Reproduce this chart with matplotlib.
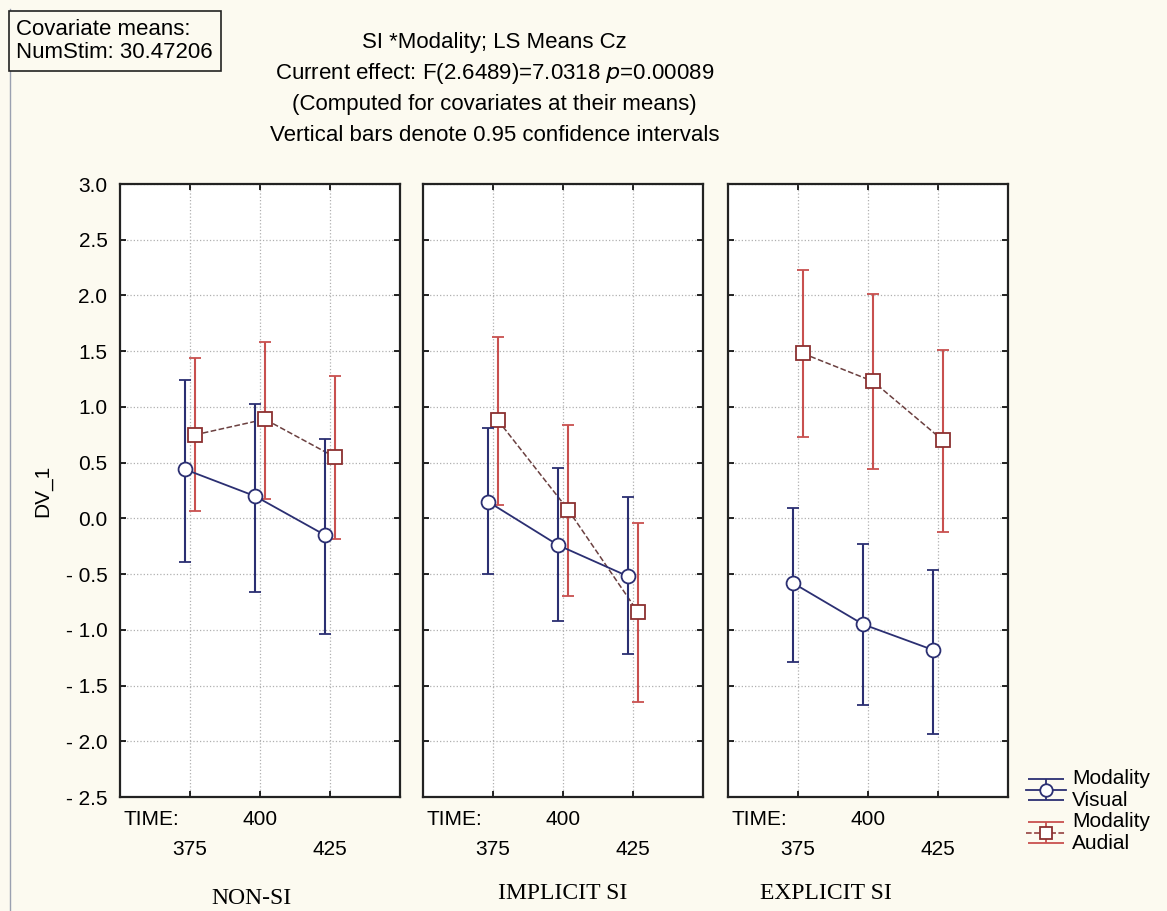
import matplotlib.pyplot as plt
from matplotlib.lines import Line2D
import numpy as np

times = ['375', '400', '425']
panels = ['NON-SI', 'IMPLICIT SI', 'EXPLICIT SI']

# LS means and 0.95 CI bounds, one row per panel
visual_mean = [[0.44, 0.20, -0.15], [0.15, -0.24, -0.52], [-0.58, -0.95, -1.18]]
visual_low = [[-0.39, -0.66, -1.04], [-0.50, -0.92, -1.22], [-1.29, -1.67, -1.93]]
visual_high = [[1.24, 1.03, 0.71], [0.81, 0.45, 0.19], [0.09, -0.23, -0.46]]
audial_mean = [[0.75, 0.89, 0.55], [0.88, 0.08, -0.84], [1.48, 1.23, 0.70]]
audial_low = [[0.07, 0.17, -0.18], [0.12, -0.70, -1.65], [0.73, 0.44, -0.12]]
audial_high = [[1.44, 1.58, 1.28], [1.63, 0.84, -0.04], [2.23, 2.01, 1.51]]

yticks = np.arange(-2.5, 3.01, 0.5)

plt.rcParams['font.family'] = ['Liberation Sans', 'DejaVu Sans']
bg = '#fcfaf0'
navy = '#2b2f72'
red = '#c8504f'

fig = plt.figure(figsize=(11.67, 9.11), dpi=100, facecolor=bg)

lefts = [0.1028, 0.3625, 0.6238]
name_x = [0.47, 0.5, 0.35]
name_y = [-0.165, -0.158, -0.158]
pos = np.arange(1, 4)
for i, ax_left in enumerate(lefts):
    ax = fig.add_axes([ax_left, 0.125, 0.240, 0.673])
    ax.set_facecolor('white')
    vm = np.array(visual_mean[i])
    am = np.array(audial_mean[i])
    verr = [vm - np.array(visual_low[i]), np.array(visual_high[i]) - vm]
    aerr = [am - np.array(audial_low[i]), np.array(audial_high[i]) - am]
    ax.errorbar(pos + 0.07, am, yerr=aerr, color='#6b4040', ls='--', lw=1.1,
                ecolor=red, elinewidth=1.5, capsize=4, capthick=1.5,
                marker='s', ms=10, mfc='white', mec='#8b3030', mew=1.3, zorder=3)
    ax.errorbar(pos - 0.07, vm, yerr=verr, color=navy, ls='-', lw=1.3,
                ecolor=navy, elinewidth=1.5, capsize=4, capthick=1.5,
                marker='o', ms=10, mfc='white', mec=navy, mew=1.3, zorder=4)
    if i == 0:
        # proxies with wide caps for the legend
        hv = ax.errorbar([np.nan], [np.nan], yerr=[[0.1], [0.1]], color=navy, ls='-', lw=1.3,
                         ecolor=navy, elinewidth=1.3, capsize=13, capthick=1.3,
                         marker='o', ms=9, mfc='white', mec=navy, mew=1.3)
        ha = ax.errorbar([np.nan], [np.nan], yerr=[[0.1], [0.1]], color='#8b3030', ls='--', lw=1.1,
                         ecolor=red, elinewidth=1.3, capsize=13, capthick=1.3,
                         marker='s', ms=9, mfc='white', mec='#8b3030', mew=1.3)
    ax.set_xlim(0, 4)
    ax.set_ylim(-2.5, 3.0)
    # staggered time labels: middle one on the upper row, outer ones below
    ax.set_xticks([pos[1]], [times[1]], fontsize=15)
    ax.set_xticks([pos[0], pos[2]], [times[0], times[2]], minor=True, fontsize=15)
    ax.set_yticks(yticks)
    if i == 0:
        ax.set_yticklabels([('- ' if v < 0 else '') + '%.1f' % abs(v) for v in yticks], fontsize=15)
        ax.set_ylabel('DV_1', fontsize=15, labelpad=10)
    else:
        ax.set_yticklabels([])
    ax.tick_params(which='both', direction='in', length=4, width=1.2, top=True, right=True, pad=9)
    ax.tick_params(axis='x', which='minor', pad=31)
    ax.grid(True, which='both', color='#b0b0b0', ls=':', lw=0.9)
    for s in ax.spines.values():
        s.set_linewidth(1.6)
        s.set_color('#222222')
    ax.text(0.45, -0.021, 'TIME:', transform=ax.get_xaxis_transform(), fontsize=15,
            ha='center', va='top')
    ax.text(name_x[i], name_y[i], panels[i], transform=ax.transAxes, fontsize=17,
            family='Liberation Serif', ha='center', va='center')

fig.text(0.424, 0.953, 'SI *Modality; LS Means Cz', fontsize=16, ha='center', va='center')
fig.text(0.424, 0.919, r'Current effect: F(2.6489)=7.0318 $\it{p}$=0.00089', fontsize=16,
         ha='center', va='center')
fig.text(0.424, 0.885, '(Computed for covariates at their means)', fontsize=16,
         ha='center', va='center')
fig.text(0.424, 0.851, 'Vertical bars denote 0.95 confidence intervals', fontsize=16,
         ha='center', va='center')
fig.text(0.014, 0.955, 'Covariate means:\nNumStim: 30.47206', fontsize=16, ha='left', va='center',
         linespacing=1.15,
         bbox=dict(boxstyle='square,pad=0.35', fc=bg, ec='#222222', lw=1.2))

fig.add_artist(Line2D([0.0085, 0.0085], [0.0, 0.99], color='#9aa0b0', lw=1.0))

fig.legend([hv, ha], ['Modality\nVisual', 'Modality\nAudial'], loc='upper left',
           bbox_to_anchor=(0.872, 0.165), frameon=False, fontsize=15,
           handlelength=1.9, handletextpad=0.3, labelspacing=0.1, borderaxespad=0)

fig.savefig('out.png', dpi=100, facecolor=bg)
